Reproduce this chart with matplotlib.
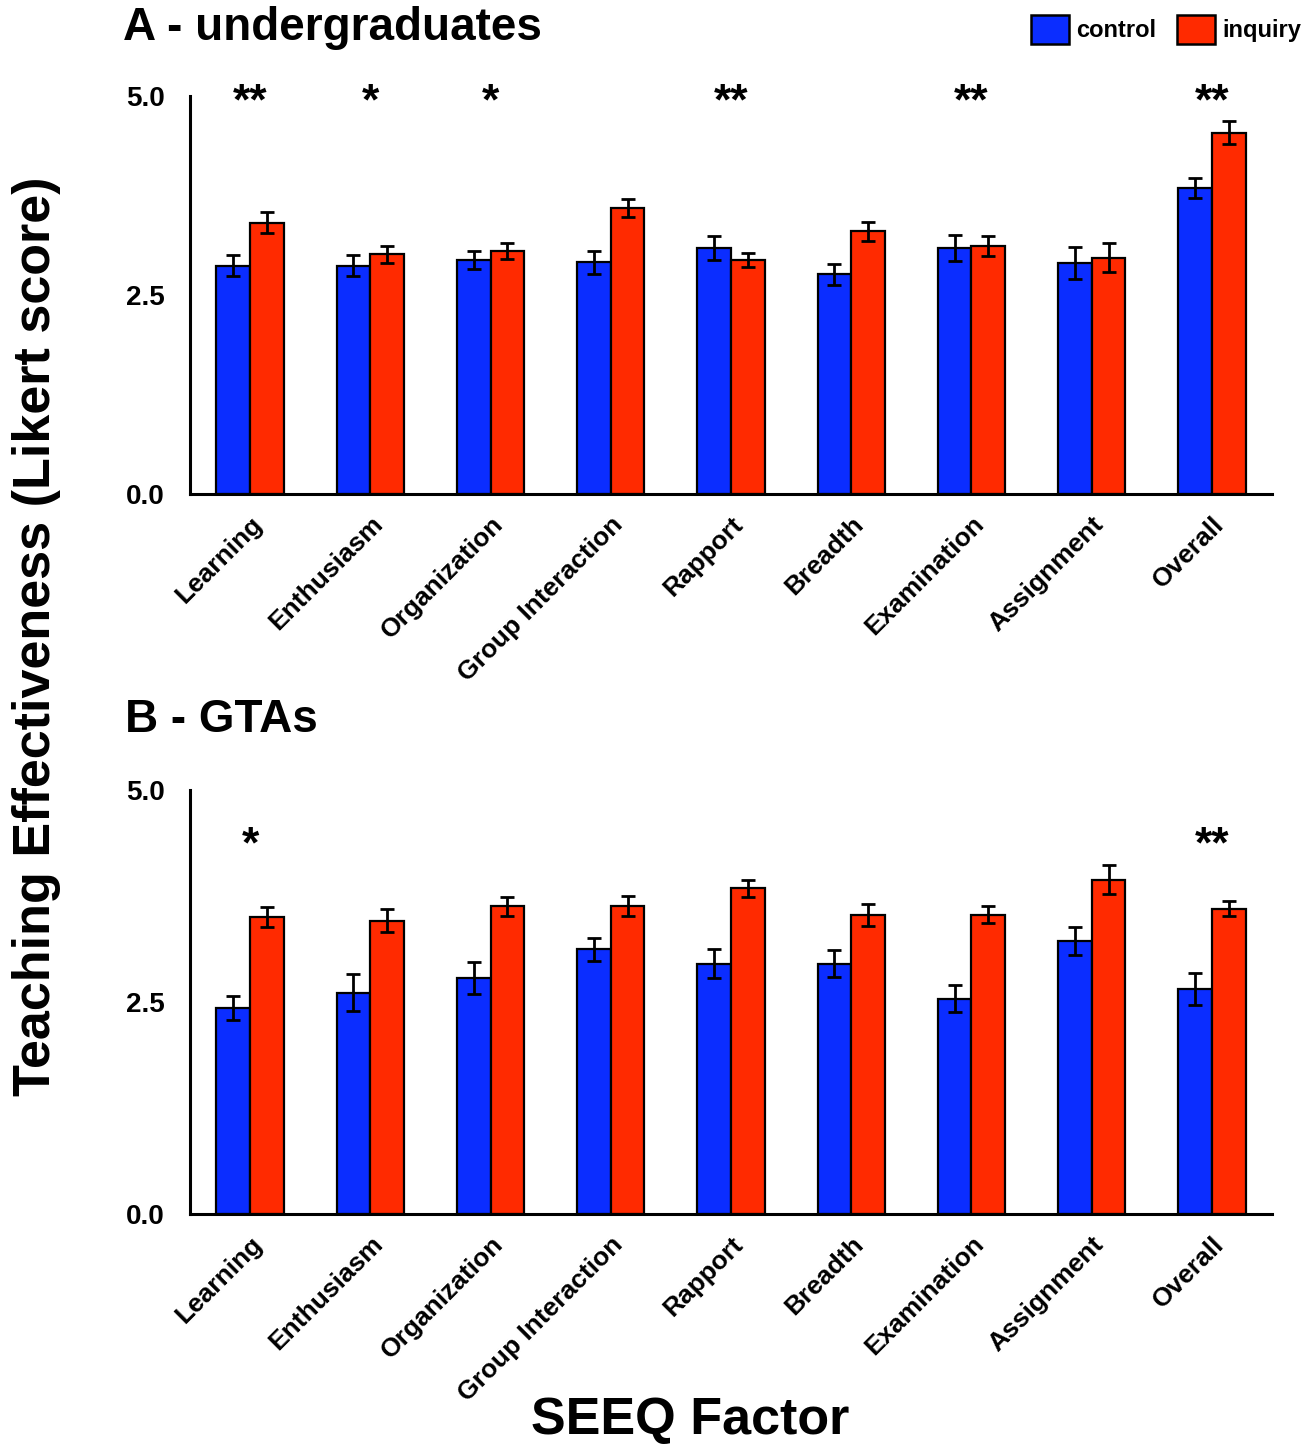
import matplotlib
matplotlib.use("Agg")
import matplotlib.pyplot as plt
from matplotlib.patches import Patch
import numpy as np

plt.rcParams['font.family'] = ['Liberation Sans', 'DejaVu Sans']
plt.rcParams['font.weight'] = 'bold'

factors = ['Learning', 'Enthusiasm', 'Organization', 'Group Interaction',
           'Rapport', 'Breadth', 'Examination', 'Assignment', 'Overall']

# A - undergraduates
ug_control = [2.87, 2.87, 2.94, 2.91, 3.09, 2.76, 3.09, 2.90, 3.85]
ug_control_err = [0.13, 0.13, 0.11, 0.14, 0.15, 0.13, 0.16, 0.20, 0.125]
ug_inquiry = [3.41, 3.01, 3.05, 3.59, 2.94, 3.30, 3.12, 2.97, 4.54]
ug_inquiry_err = [0.13, 0.11, 0.10, 0.11, 0.09, 0.12, 0.125, 0.18, 0.14]
ug_stars = ['**', '*', '*', '', '**', '', '**', '', '**']

# B - GTAs
gta_control = [2.43, 2.61, 2.78, 3.12, 2.95, 2.95, 2.54, 3.22, 2.65]
gta_control_err = [0.14, 0.22, 0.19, 0.14, 0.17, 0.16, 0.155, 0.17, 0.19]
gta_inquiry = [3.50, 3.46, 3.63, 3.63, 3.84, 3.53, 3.53, 3.94, 3.60]
gta_inquiry_err = [0.12, 0.14, 0.11, 0.12, 0.10, 0.13, 0.10, 0.17, 0.09]
gta_stars = ['*', '', '', '', '', '', '', '', '**']

blue = '#0B2DFF'
red = '#FF2A00'


def draw_panel(ax, control, cerr, inquiry, ierr, stars, star_y):
    x = np.arange(len(factors))
    w = 0.28
    ekw = dict(ecolor='black', elinewidth=2, capsize=5, capthick=2)
    ax.bar(x - w / 2, control, w, yerr=cerr, color=blue, edgecolor='black',
           linewidth=1.6, error_kw=ekw, zorder=2)
    ax.bar(x + w / 2, inquiry, w, yerr=ierr, color=red, edgecolor='black',
           linewidth=1.6, error_kw=ekw, zorder=2)
    for xi, s in zip(x, stars):
        if s:
            ax.text(xi, star_y, s, ha='center', va='center', fontsize=32,
                    fontweight='bold')
    ax.set_xlim(-0.5, 8.5)
    ax.set_ylim(0, 5)
    ax.set_yticks([0, 2.5, 5])
    ax.set_yticklabels(['0.0', '2.5', '5.0'])
    ax.set_xticks(x)
    ax.set_xticklabels(factors, rotation=45, ha='right', va='top',
                       rotation_mode='anchor')
    ax.tick_params(axis='both', length=0)
    ax.tick_params(axis='y', pad=18, labelsize=20)
    ax.tick_params(axis='x', pad=13, labelsize=19)
    for side in ['top', 'right']:
        ax.spines[side].set_visible(False)
    for side in ['left', 'bottom']:
        ax.spines[side].set_linewidth(2.2)
    for lab in ax.get_xticklabels() + ax.get_yticklabels():
        lab.set_fontweight('bold')


fig = plt.figure(figsize=(13.13, 14.44), dpi=100)
ax1 = fig.add_axes([0.1447, 0.6579, 0.8241, 0.2756])
ax2 = fig.add_axes([0.1447, 0.1593, 0.8241, 0.2936])

draw_panel(ax1, ug_control, ug_control_err, ug_inquiry, ug_inquiry_err,
           ug_stars, 4.91)
draw_panel(ax2, gta_control, gta_control_err, gta_inquiry, gta_inquiry_err,
           gta_stars, 4.34)

fig.text(0.094, 0.9806, 'A - undergraduates', fontsize=33, fontweight='bold',
         ha='left', va='center')
fig.text(0.095, 0.5014, 'B - GTAs', fontsize=33, fontweight='bold',
         ha='left', va='center')
fig.text(0.028, 0.5595, 'Teaching Effectiveness (Likert score)', fontsize=37.5,
         fontweight='bold', rotation=90, ha='center', va='center')
fig.text(0.526, 0.0166, 'SEEQ Factor', fontsize=37.5, fontweight='bold',
         ha='center', va='center')

handles = [Patch(facecolor=blue, edgecolor='black', linewidth=1.8, label='control'),
           Patch(facecolor=red, edgecolor='black', linewidth=1.8, label='inquiry')]
fig.legend(handles=handles, loc='upper right', bbox_to_anchor=(1.007, 1.004),
           ncol=2, frameon=False, handlelength=1.6, handleheight=1.45,
           handletextpad=0.3, columnspacing=0.9,
           prop={'weight': 'bold', 'size': 17})

fig.savefig('out.png', dpi=100)
